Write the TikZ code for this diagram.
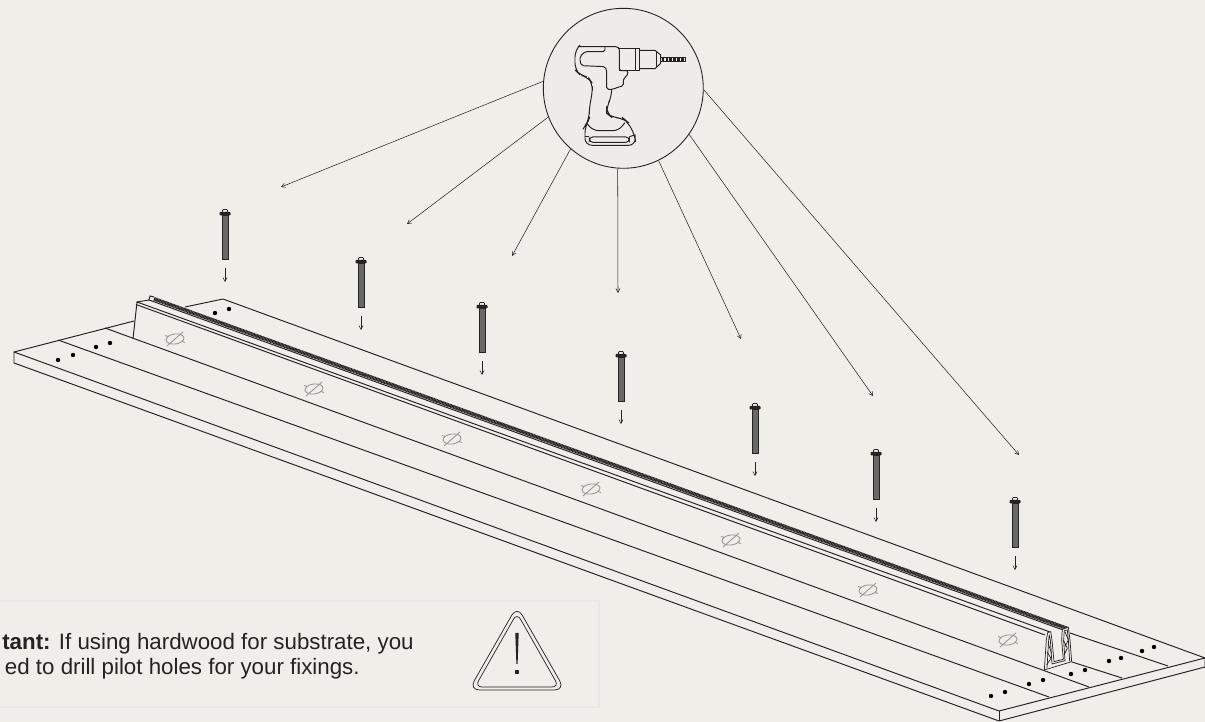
\documentclass[tikz,border=0pt]{standalone}
\usepackage{fontspec}
\setmainfont{Liberation Sans}
\usetikzlibrary{arrows.meta}
\definecolor{paper}{RGB}{240,238,233}
\definecolor{disc}{RGB}{237,236,232}
\definecolor{inkdark}{RGB}{35,35,35}
\definecolor{boxline}{RGB}{232,232,230}
\definecolor{markgrey}{RGB}{150,150,146}
\definecolor{threadgrey}{RGB}{105,105,102}
\tikzset{
  edge/.style={draw=inkdark, line width=0.55pt},
  thin edge/.style={draw=inkdark, line width=0.4pt, line join=round},
  leader/.style={draw=inkdark, line width=0.3pt, -{Straight Barb[length=2.2pt,width=2.4pt]}},
  hole/.style={fill=black, draw=none},
  note/.style={anchor=base east, inner sep=0pt, font=\fontsize{12.7}{15}\selectfont, text=inkdark},
  screw/.pic={
    \draw[thin edge, rounded corners=0.5pt] (-2.5,4) -- (-2.5,0.5) -- (2.5,0.5) -- (2.5,4);
    \fill[inkdark, rounded corners=0.5pt] (-5.5,3) rectangle (5.5,6.5);
    \draw[inkdark, line width=0.5pt, fill=threadgrey] (-3,6) rectangle (3,50);
  },
  slashmark/.pic={
    \draw[markgrey, line width=0.5pt, rotate=8] (0,0) ellipse (9 and 5);
    \draw[markgrey, line width=0.5pt] (-8,7) -- (8,-7);
    \draw[markgrey, line width=0.5pt] (-10,-3.5) -- (-7,-2.5);
    \draw[markgrey, line width=0.5pt] (7,2.5) -- (10,3.5);
  }
}
\begin{document}
\begin{tikzpicture}[x=0.02cm, y=-0.02cm]
\useasboundingbox (0,0) rectangle (1205,722);
\fill[paper] (0,0) rectangle (1205,722);
% Note box
\draw[boxline, line width=1pt] (0,601) -- (599,601) -- (599,707) -- (0,707);
\node[note] (noteone) at (414,650) {\textbf{tant:} If using hardwood for substrate, you};
\node[note] (notetwo) at (360,675) {ed to drill pilot holes for your fixings.};
% Warning triangle
\draw[thin edge, rounded corners=6pt] (517,606) -- (565,690) -- (469,690) -- cycle;
\draw[thin edge, rounded corners=4pt] (517,613) -- (559,687) -- (475,687) -- cycle;
\fill[inkdark] (515.3,633) -- (518.7,633) -- (517.6,664) -- (516.4,664) -- cycle;
\fill[inkdark] (515.3,670) rectangle (518.7,674);
% Board
\draw[edge, line join=round] (134,321) -- (14,352) -- (999,711) -- (1205,658) -- (223,299) -- (185,307);
\draw[edge, line join=round] (14,352) -- (14,363) -- (999,721) -- (1205,667) -- (1205,658);
\draw[edge] (999,711) -- (999,721);
\draw[edge] (58,340) -- (1049,697);
\draw[edge] (105,328) -- (1089,687);
\draw[edge] (1072,662) -- (1122,678);
\draw[edge] (1070,633) -- (1168,666);
% Holes in the planks
\foreach \hx/\hy in {58/360,73/355,96/347,110/343,215/313,229/309,991/696,1005/692,1029/684,1043/680,1071/674,1085/670,1109/661,1121/658,1142/651,1154/647}
  \fill[hole] (\hx,\hy) circle (2.2);
% Rail
\draw[edge] (133,339) -- (137,302) -- (1050,632);
\draw[edge] (136,304.5) -- (1045,635);
\draw[edge] (137,302) -- (149,300) -- (150,296) -- (154,297);
\draw[edge] (149,300) -- (1066,631);
\draw[inkdark, line width=2.1pt, dash pattern=on 0.6pt off 0.25pt] (154,298.8) -- (1068,628.8);
% Rail end
\begin{scope}[shift={(950,590)}, scale=0.3333]
\draw[thin edge, fill=paper] (283,240) -- (289,150) -- (293,128) -- (302,125) -- (306,150) -- (312,215) -- (340,208) -- (335,150) -- (337,118) -- (355,112) -- (360,150) -- (365,215) -- cycle;
\draw[thin edge] (291,235) -- (296,150) -- (298,135) -- (301,150) -- (306,222) -- (345,212) -- (341,150) -- (343,122) -- (352,120) -- (355,150) -- (359,214);
\draw[thin edge] (291,185) -- (303,205) -- (290,225);
\draw[thin edge] (294,160) -- (305,190);
\draw[thin edge] (340,150) -- (352,175) -- (342,195);
\draw[thin edge] (345,125) -- (355,150) -- (345,170);
\end{scope}
% Marks on the rail
\foreach \mx/\my in {175/339,314/389,452/439,591/489,731/540,868/590,1008/640}
  \pic at (\mx,\my) {slashmark};
% Screws and their arrows
\foreach \n/\sx/\sy in {a/225/209,b/361/257,c/482/302,d/621/351,e/755/403,f/876/449,g/1015/497} {
  \pic at (\sx,\sy) {screw};
  \coordinate (\n top) at (\sx,\sy+59);
  \coordinate (\n end) at (\sx,\sy+73);
  \draw[leader] (\n top) -- (\n end);
}
% Drill in its circle
\node[circle, draw=inkdark, line width=0.5pt, fill=disc, minimum size=3.2cm, inner sep=0pt] (drill) at (623.3,88.3) {};
\foreach \n/\ang/\tx/\ty in {p/175/281/187,q/201/407/224,r/229.5/512/256,s/266/618/293,t/296/741/339,u/325.5/873/396,v/359/1019/455} {
  \coordinate (\n) at (\tx,\ty);
  \draw[leader] (drill.\ang) -- (\n);
}
\begin{scope}[shift={(530,0)}, scale=0.3333]
% body and handle
\draw[edge, line join=round, rounded corners=1pt] (145,140) -- (262,140) -- (268,145) -- (268,212) -- (295,212) -- (290,230) -- (280,235) -- (280,258) -- (262,262) -- (250,268) -- (230,268) -- (230,210) -- (225,200) -- (155,197) -- (150,185) -- (150,170) -- (165,155) -- (225,155) -- (225,140);
\draw[edge, rounded corners=4pt] (145,140) -- (135,150) -- (135,210) -- (150,225) -- (175,232) -- (187,250) -- (187,280) -- (178,320) -- (178,355) -- (170,370) -- (165,378) -- (165,436) -- (317,436) -- (315,405) -- (292,365) -- (280,355) -- (245,352) -- (230,340) -- (230,320) -- (245,290) -- (245,268);
% chuck and bit
\draw[edge] (268,145) -- (328,145) -- (328,212) -- (268,212);
\draw[edge] (315,145) -- (315,212);
\draw[edge] (328,151) -- (375,151) -- (392,165) -- (392,190) -- (375,206) -- (328,206);
\draw[edge] (380,156) -- (380,200);
\draw[edge] (392,172) -- (465,172) -- (465,185) -- (392,185);
\draw[inkdark, line width=1.2pt, dash pattern=on 1.5pt off 0.7pt] (395,178.5) -- (462,178.5);
% battery
\draw[edge, rounded corners=3pt] (170,370) -- (190,392) -- (265,392) -- (285,368);
\draw[edge, rounded corners=2pt] (178,411) rectangle (298,427);
\draw[edge] (165,410) -- (178,410);
\draw[edge] (298,410) -- (315,405);
\end{scope}
\end{tikzpicture}
\end{document}
